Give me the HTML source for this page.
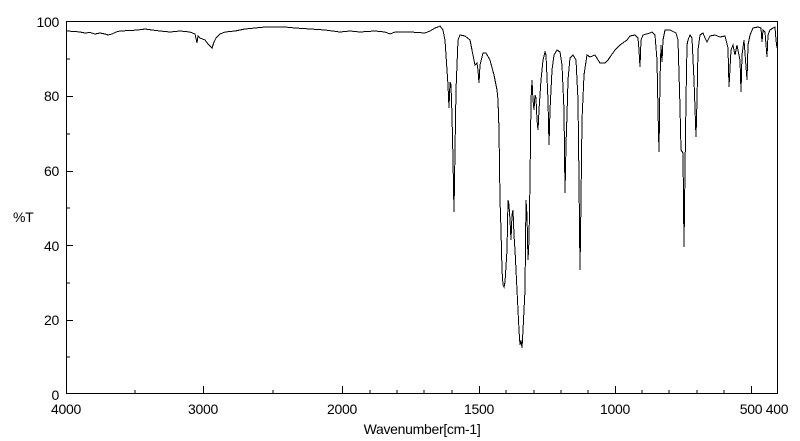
<!DOCTYPE html>
<html><head><meta charset="utf-8"><style>
html,body{margin:0;padding:0;background:#fff;}
svg{display:block;}
text{font-family:"Liberation Sans",sans-serif;font-size:14px;fill:#000;font-stretch:condensed;letter-spacing:-0.3px;}
</style></head><body>
<svg width="800" height="441" viewBox="0 0 800 441" xmlns="http://www.w3.org/2000/svg">
<rect x="66.5" y="21.5" width="711" height="372" fill="none" stroke="#000" stroke-width="1" shape-rendering="crispEdges"/>
<g stroke="#000" stroke-width="1" shape-rendering="crispEdges">
<line x1="66" y1="96.5" x2="73" y2="96.5"/><line x1="66" y1="171.5" x2="73" y2="171.5"/>
<line x1="66" y1="245.5" x2="73" y2="245.5"/><line x1="66" y1="320.5" x2="73" y2="320.5"/>
<line x1="66" y1="59" x2="70" y2="59"/><line x1="66" y1="134" x2="70" y2="134"/>
<line x1="66" y1="208" x2="70" y2="208"/><line x1="66" y1="283" x2="70" y2="283"/>
<line x1="66" y1="357" x2="70" y2="357"/>
<line x1="203.5" y1="393" x2="203.5" y2="386"/><line x1="342.5" y1="393" x2="342.5" y2="386"/>
<line x1="479.5" y1="393" x2="479.5" y2="386"/><line x1="615.5" y1="393" x2="615.5" y2="386"/>
<line x1="751.5" y1="393" x2="751.5" y2="386"/>
<line x1="135" y1="393" x2="135" y2="390"/><line x1="273" y1="393" x2="273" y2="390"/>
<line x1="370" y1="393" x2="370" y2="390"/><line x1="397" y1="393" x2="397" y2="390"/>
<line x1="424" y1="393" x2="424" y2="390"/><line x1="452" y1="393" x2="452" y2="390"/>
<line x1="506" y1="393" x2="506" y2="390"/><line x1="534" y1="393" x2="534" y2="390"/>
<line x1="561" y1="393" x2="561" y2="390"/><line x1="588" y1="393" x2="588" y2="390"/>
<line x1="642" y1="393" x2="642" y2="390"/><line x1="669" y1="393" x2="669" y2="390"/>
<line x1="697" y1="393" x2="697" y2="390"/><line x1="724" y1="393" x2="724" y2="390"/>
</g>
<g text-anchor="end">
<text x="59" y="27">100</text><text x="59" y="101">80</text><text x="59" y="176">60</text>
<text x="59" y="251">40</text><text x="59" y="325">20</text><text x="59" y="400">0</text>
</g>
<text x="13" y="222">%T</text>
<g text-anchor="middle">
<text x="66" y="414">4000</text><text x="203" y="414">3000</text><text x="342" y="414">2000</text>
<text x="479" y="414">1500</text><text x="615" y="414">1000</text><text x="764" y="414">500 400</text>
<text x="422" y="434">Wavenumber[cm-1]</text>
</g>
<polyline fill="none" stroke="#000" stroke-width="1" shape-rendering="crispEdges" points="
66,31 75,31.5 80,32 85,33 90,32.5 95,34 100,33 105,34 108,35 112,34 116,32 120,31 130,30.5 138,30 145,29 152,30 160,31 170,32 180,31 190,32 195,34 197,43 198,36 200,38 205,40 208,44 210,46 212,48 214,42 216,38 220,34 225,32 235,31 245,29 255,28 265,27 285,27 295,28 310,29 325,30 340,32 350,31 360,32 375,31 385,32 390,34 395,32 410,32 425,33 430,31 435,28 438,27 440,26 443,30 445,40 446,55 448,85 449,108 450,82 451,85 452,115 453,160 454,212 455,150 456,90 458,40 460,35 465,36 470,40 473,55 475,65 477,63 478,70 479,83 480,65 483,53 486,53 490,60 494,75 497,90 498,100 499,130 500,200 501,230 502,270 503,285 504,287 505,282 507,250 508,200 509,205 510,220 511,240 512,215 513,210 514,235 515,250 516,270 517,290 518,310 519,330 520,345 521,340 522,348 523,330 525,290 526,200 527,215 528,260 529,240 530,180 531,100 532,80 533,100 534,110 535,95 536,98 537,120 538,130 539,110 541,80 543,60 545,52 546,55 548,100 549,145 550,110 552,70 554,55 557,50 560,52 562,65 564,110 565,193 566,145 567,115 568,80 570,58 573,55 576,60 578,100 579,180 580,270 581,200 582,120 584,75 587,55 590,57 595,55 600,63 605,63 608,60 610,57 615,50 620,45 627,40 630,36 635,35 638,38 639,50 640,67 641,40 643,35 650,33 652,32 655,35 657,60 658,110 659,152 660,80 661,45 662,62 663,40 665,30 670,30 676,33 678,40 680,107 681,150 683,153 684,247 685,170 686,100 687,45 688,40 690,35 692,38 694,80 696,137 697,100 698,50 700,35 703,33 705,38 707,42 710,36 715,35 720,37 725,36 728,48 729,87 731,50 733,45 735,55 737,45 740,60 741,92 742,55 744,40 747,80 748,45 750,35 753,28 758,27 761,28 762,42 763,30 765,32 767,57 768,35 770,30 773,28 775,27 776,40 777,48"/>
</svg>
</body></html>
